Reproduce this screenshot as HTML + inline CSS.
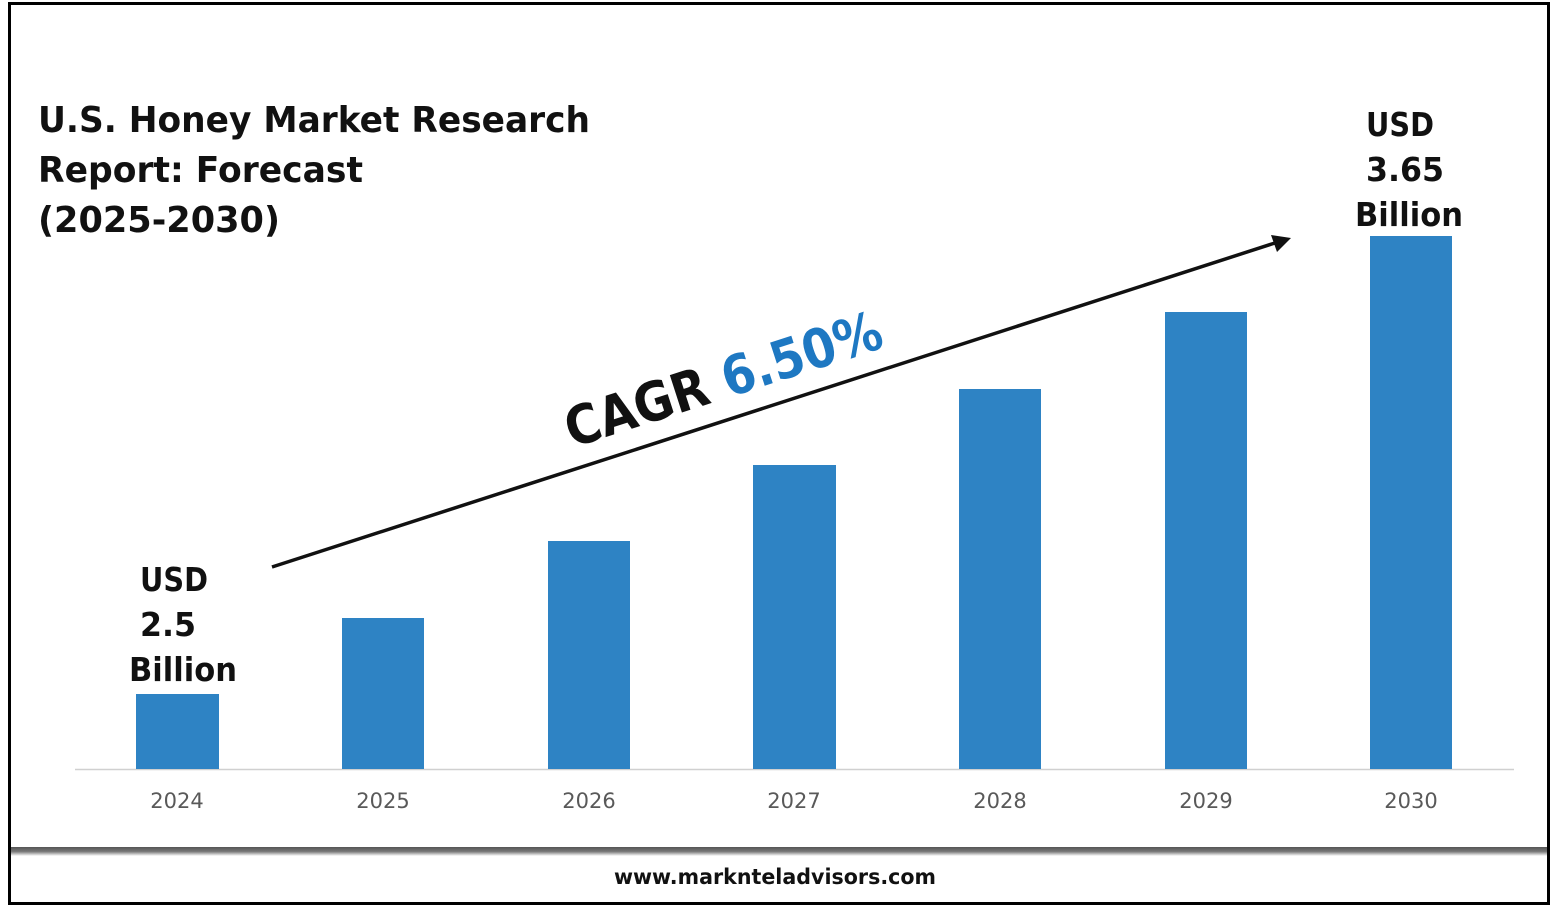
<!DOCTYPE html>
<html><head><style>
body{margin:0;background:#fff;}
svg text{font-family:"DejaVu Sans","Liberation Sans",sans-serif;}
</style></head><body>
<svg width="1557" height="907" xmlns="http://www.w3.org/2000/svg">
<defs><linearGradient id="g" x1="0" y1="0" x2="0" y2="1">
<stop offset="0" stop-color="#555"/><stop offset="0.5" stop-color="#777"/><stop offset="1" stop-color="#fff"/></linearGradient></defs>
<rect x="9.5" y="3.5" width="1539" height="900" fill="#fff" stroke="#000" stroke-width="3"/>
<rect x="11" y="847" width="1536" height="9" fill="url(#g)"/>
<g font-weight="bold" font-size="36" fill="#111">
<text x="38" y="132" textLength="552" lengthAdjust="spacingAndGlyphs">U.S. Honey Market Research</text>
<text x="38" y="182" textLength="325" lengthAdjust="spacingAndGlyphs">Report: Forecast</text>
<text x="38" y="232" textLength="242" lengthAdjust="spacingAndGlyphs">(2025-2030)</text>
</g>
<line x1="75" y1="769.5" x2="1514" y2="769.5" stroke="#d0d0d0" stroke-width="1.5"/>
<g fill="#2e83c4">
<rect x="136" y="694" width="83" height="75"/>
<rect x="342" y="618" width="82" height="151"/>
<rect x="548" y="541" width="82" height="228"/>
<rect x="753" y="465" width="83" height="304"/>
<rect x="959" y="389" width="82" height="380"/>
<rect x="1165" y="312" width="82" height="457"/>
<rect x="1370" y="236" width="82" height="533"/>
</g>
<g font-size="21" fill="#595959" text-anchor="middle">
<text x="177" y="808">2024</text><text x="383" y="808">2025</text><text x="589" y="808">2026</text>
<text x="794" y="808">2027</text><text x="1000" y="808">2028</text><text x="1206" y="808">2029</text><text x="1411" y="808">2030</text>
</g>
<g font-weight="bold" font-size="33" fill="#111" lengthAdjust="spacingAndGlyphs">
<text x="140" y="591" textLength="68" lengthAdjust="spacingAndGlyphs">USD</text><text x="140" y="636" textLength="56" lengthAdjust="spacingAndGlyphs">2.5</text><text x="129" y="681" textLength="108" lengthAdjust="spacingAndGlyphs">Billion</text>
<text x="1366" y="136" textLength="68" lengthAdjust="spacingAndGlyphs">USD</text><text x="1366" y="181" textLength="78" lengthAdjust="spacingAndGlyphs">3.65</text><text x="1355" y="226" textLength="108" lengthAdjust="spacingAndGlyphs">Billion</text>
</g>
<line x1="272" y1="567" x2="1278" y2="242" stroke="#111" stroke-width="3.5"/>
<polygon points="1291,238 1271,235 1277,252" fill="#111"/>
<text transform="translate(572,448) rotate(-17.9)" font-size="54" font-weight="bold" fill="#111" textLength="330" lengthAdjust="spacingAndGlyphs">CAGR <tspan fill="#1e78c2">6.50%</tspan></text>
<text x="775" y="884" text-anchor="middle" font-size="21" font-weight="bold" fill="#111" textLength="322" lengthAdjust="spacingAndGlyphs">www.marknteladvisors.com</text>
</svg>
</body></html>
